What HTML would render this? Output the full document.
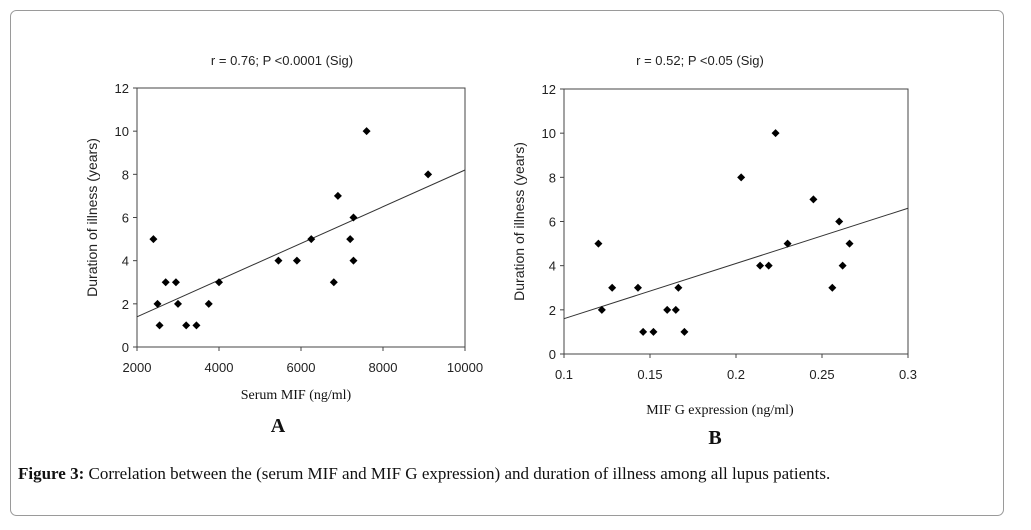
<!DOCTYPE html>
<html><head><meta charset="utf-8"><style>
body{margin:0;width:1031px;height:530px;background:#fff;overflow:hidden;}
svg{display:block}
</style></head><body>
<svg width="1031" height="530">
<rect x="10.5" y="10.5" width="993" height="505" rx="6" fill="#fff" stroke="#9a9a9a"/>
<g id="A"></g>
<g id="B"></g>
<text x="18" y="479" font-family="Liberation Serif, serif" font-size="17" fill="#111"><tspan font-weight="bold">Figure 3:</tspan> Correlation between the (serum MIF and MIF G expression) and duration of illness among all lupus patients.</text>
</svg>
<script>
const aX=[2400,2500,2550,2700,2950,3000,3200,3450,3750,4000,5450,5900,6250,6800,6900,7200,7280,7280,7600,9100];
const aY=[5,2,1,3,3,2,1,1,2,3,4,4,5,3,7,5,6,4,10,8];
const aTrend=[1.4,8.2];
const aXTicks=[2000,4000,6000,8000,10000];
const bX=[0.12,0.122,0.128,0.143,0.146,0.152,0.16,0.165,0.1665,0.17,0.203,0.214,0.219,0.223,0.23,0.245,0.256,0.26,0.262,0.266];
const bY=[5,2,3,3,1,1,2,2,3,1,8,4,4,10,5,7,3,6,4,5];
const bTrend=[1.6,6.6];
const bXTicks=[0.1,0.15,0.2,0.25,0.3];
const yTicks=[0,2,4,6,8,10,12];
const NS='http://www.w3.org/2000/svg';
function mk(p,t,a){const e=document.createElementNS(NS,t);for(const k in a)e.setAttribute(k,a[k]);p.appendChild(e);return e;}
function chart(g,o){
 const sx=v=>o.l+(v-o.x0)/(o.x1-o.x0)*(o.r-o.l);
 const sy=v=>o.b-(v/12)*(o.b-o.t);
 mk(g,'rect',{x:o.l,y:o.t,width:o.r-o.l,height:o.b-o.t,fill:'none',stroke:'#444','stroke-width':1});
 yTicks.forEach(v=>{mk(g,'line',{x1:o.l-4,x2:o.l,y1:sy(v),y2:sy(v),stroke:'#444'});
  const t=mk(g,'text',{x:o.l-8,y:sy(v)+5,'text-anchor':'end','font-family':'Liberation Sans, sans-serif','font-size':13,fill:'#222'});t.textContent=v;
  
  });
 o.xt.forEach(v=>{mk(g,'line',{x1:sx(v),x2:sx(v),y1:o.b,y2:o.b+4,stroke:'#444'});
  const t=mk(g,'text',{x:sx(v),y:o.b+25,'text-anchor':'middle','font-family':'Liberation Sans, sans-serif','font-size':13,fill:'#222'});t.textContent=v;
  
  });
 const ln=mk(g,'line',{x1:o.l,y1:sy(o.tr[0]),x2:o.r,y2:sy(o.tr[1]),stroke:'#333','stroke-width':1});
 
 
 o.xs.forEach((x,i)=>{const cx=sx(x),cy=sy(o.ys[i]);
  const p=mk(g,'path',{d:`M${cx} ${cy-4}L${cx+4} ${cy}L${cx} ${cy+4}L${cx-4} ${cy}Z`,fill:'#000'});
  
  });
 const yt=mk(g,'text',{transform:`translate(${o.l-40},${(o.t+o.b)/2}) rotate(-90)`,'text-anchor':'middle','font-family':'Liberation Sans, sans-serif','font-size':14,fill:'#222'});
 yt.textContent='Duration of illness (years)';
 
 
 const ti=mk(g,'text',{x:o.tx,y:o.ty,'text-anchor':'middle','font-family':'Liberation Sans, sans-serif','font-size':13,fill:'#222'});ti.textContent=o.title;
 
 
 const xt=mk(g,'text',{x:o.xtx,y:o.xty,'text-anchor':'middle','font-family':'Liberation Serif, serif','font-size':14,fill:'#111'});xt.textContent=o.xlab;
 
 
 const pl=mk(g,'text',{x:o.px,y:o.py,'text-anchor':'middle','font-family':'Liberation Serif, serif','font-size':20,'font-weight':'bold',fill:'#111'});pl.textContent=o.pan;
 
 
}
chart(document.getElementById('A'),{l:137,r:465,t:88,b:347,x0:2000,x1:10000,xs:aX,ys:aY,tr:aTrend,xt:aXTicks,title:'r = 0.76; P <0.0001 (Sig)',tx:282,ty:65,xlab:'Serum MIF (ng/ml)',xtx:296,xty:399,pan:'A',px:278,py:432});
chart(document.getElementById('B'),{l:564,r:908,t:89,b:354,x0:0.1,x1:0.3,xs:bX,ys:bY,tr:bTrend,xt:bXTicks,title:'r = 0.52; P <0.05 (Sig)',tx:700,ty:65,xlab:'MIF G expression (ng/ml)',xtx:720,xty:414,pan:'B',px:715,py:444});
</script>
</body></html>
